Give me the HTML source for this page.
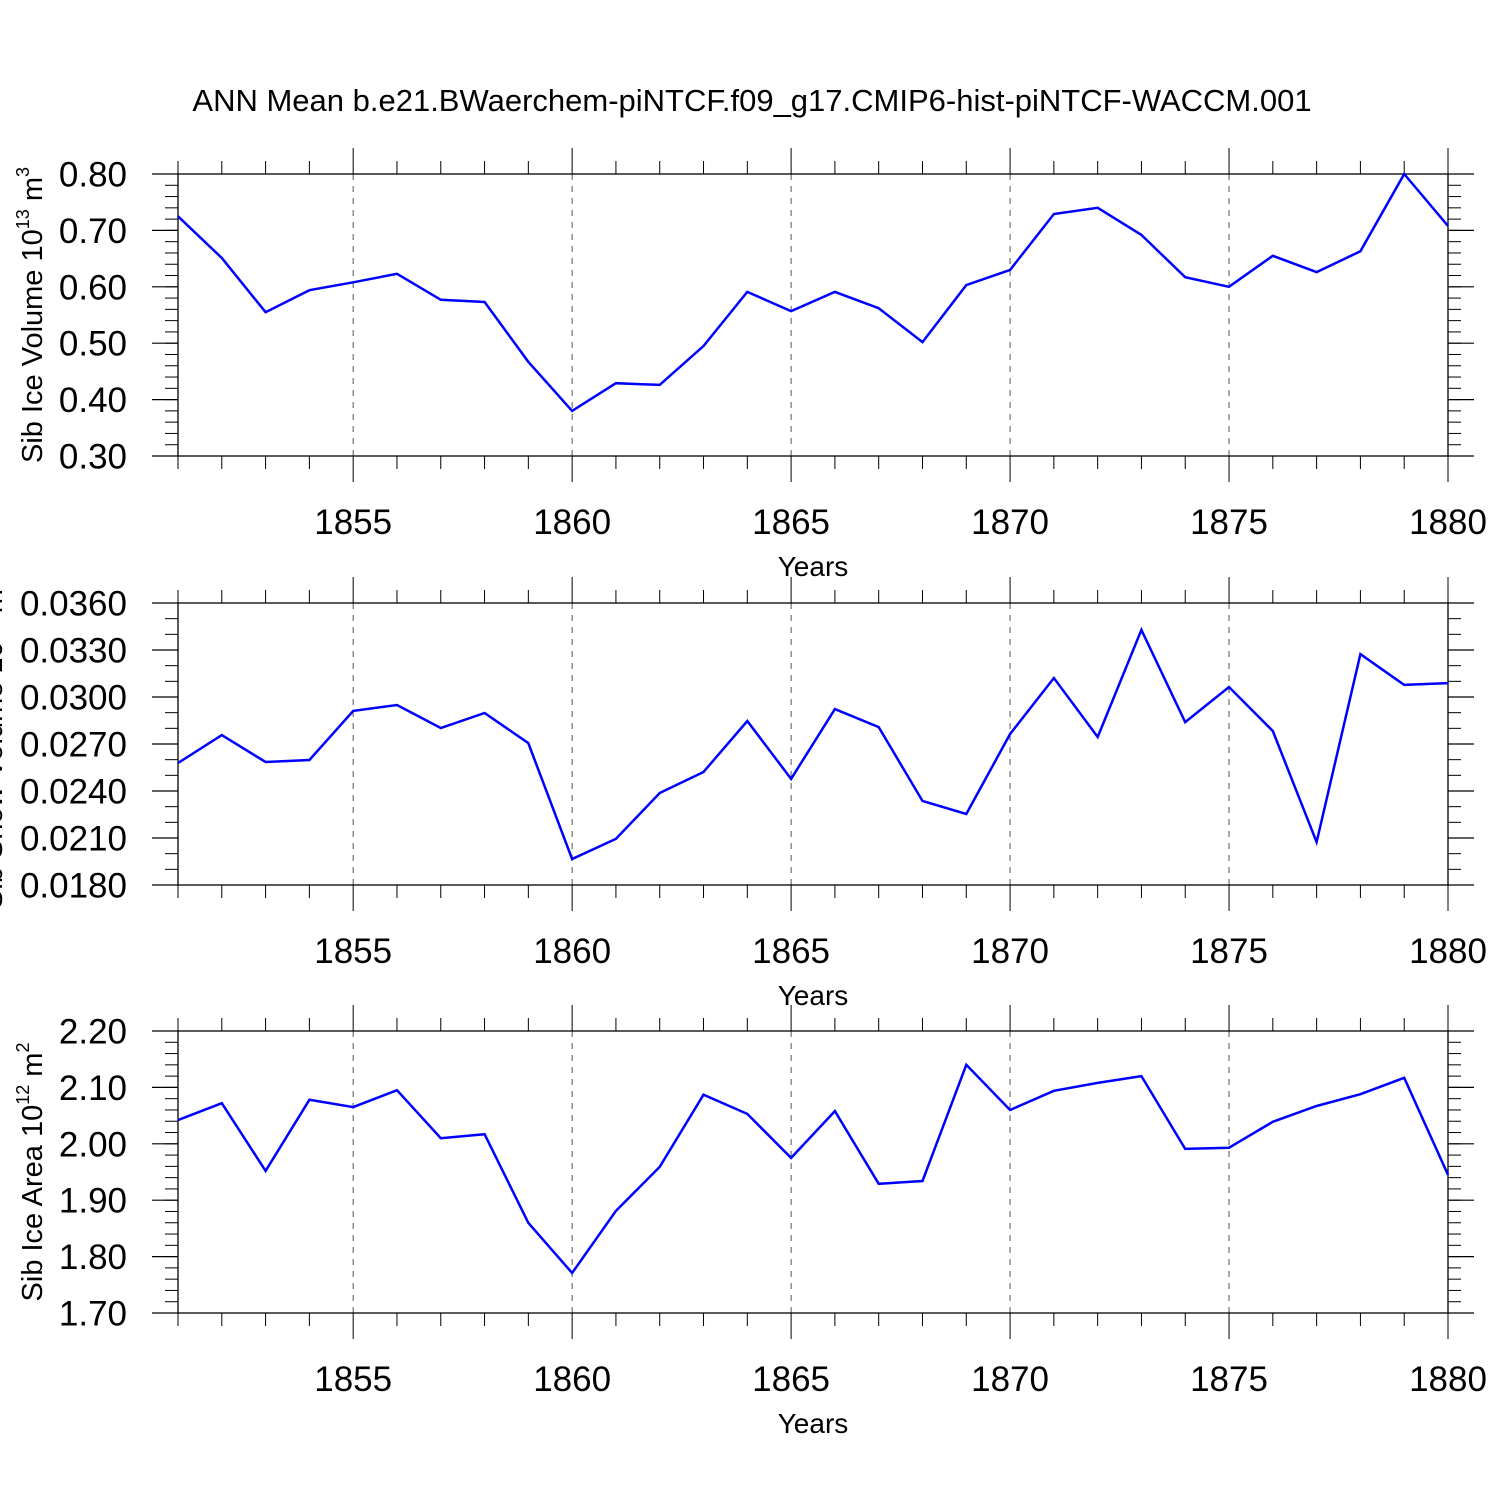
<!DOCTYPE html>
<html><head><meta charset="utf-8"><style>
html,body{margin:0;padding:0;background:#fff}
svg{display:block}
text{font-family:"Liberation Sans",sans-serif;fill:#000}
</style></head><body>
<svg id="chart" width="1500" height="1500" viewBox="0 0 1500 1500" xmlns="http://www.w3.org/2000/svg">
<text x="752" y="111" font-size="31" text-anchor="middle">ANN Mean b.e21.BWaerchem-piNTCF.f09_g17.CMIP6-hist-piNTCF-WACCM.001</text>
</svg>
<script>
const years = [1851,1852,1853,1854,1855,1856,1857,1858,1859,1860,1861,1862,1863,1864,1865,1866,1867,1868,1869,1870,1871,1872,1873,1874,1875,1876,1877,1878,1879,1880];
const iceVolume = [0.725,0.651,0.555,0.594,0.608,0.623,0.577,0.573,0.467,0.380,0.429,0.426,0.495,0.591,0.557,0.591,0.562,0.502,0.603,0.630,0.729,0.740,0.692,0.617,0.600,0.655,0.626,0.663,0.800,0.708];
const snowVolume = [0.02579,0.02757,0.02585,0.02598,0.02911,0.02949,0.02802,0.02898,0.02706,0.01966,0.02094,0.02387,0.02521,0.02847,0.02477,0.02923,0.02808,0.02336,0.02253,0.02764,0.03121,0.02745,0.03428,0.02840,0.03064,0.02783,0.02074,0.03274,0.03077,0.03089];
const iceArea = [2.042,2.072,1.952,2.078,2.065,2.095,2.010,2.017,1.860,1.771,1.881,1.959,2.087,2.053,1.975,2.058,1.929,1.934,2.140,2.060,2.094,2.108,2.120,1.991,1.993,2.039,2.067,2.088,2.117,1.945];
const xTicks = [1855,1860,1865,1870,1875,1880];
const volTicks = ["0.30","0.40","0.50","0.60","0.70","0.80"];
const snowTicks = ["0.0180","0.0210","0.0240","0.0270","0.0300","0.0330","0.0360"];
const areaTicks = ["1.70","1.80","1.90","2.00","2.10","2.20"];

const svg = document.getElementById('chart');
const NS = 'http://www.w3.org/2000/svg';
function mk(tag, attrs, parent){ const e=document.createElementNS(NS,tag); for(const k in attrs) e.setAttribute(k,attrs[k]); (parent||svg).appendChild(e); return e; }

const X0=178, X1=1448, XMIN=1851, XMAX=1880;
const xs = v => X0 + (v-XMIN)/(XMAX-XMIN)*(X1-X0);

const panels = [
 {id:'ice-volume', top:174, vals:iceVolume, ticks:volTicks, min:0.30, max:0.80, minor:0.02, title:'Sib Ice Volume 10', sup:'13', unit:' m', usup:'3', tx:32},
 {id:'snow-volume', top:603, vals:snowVolume, ticks:snowTicks, min:0.018, max:0.036, minor:0.001, title:'Sib Snow Volume 10', sup:'13', unit:' m', usup:'3', tx:-8},
 {id:'ice-area', top:1031, vals:iceArea, ticks:areaTicks, min:1.70, max:2.20, minor:0.02, title:'Sib Ice Area 10', sup:'12', unit:' m', usup:'2', tx:32}
];
const H=282;
panels.forEach(p=>{
  const g = mk('g',{});
  
  
  const bot = p.top+H;
  const ys = v => bot - (v-p.min)/(p.max-p.min)*H;
  xTicks.forEach(t=>{ if(t<XMAX){ const l=mk('line',{x1:xs(t),x2:xs(t),y1:p.top,y2:bot,stroke:'#555','stroke-width':1,'stroke-dasharray':'6,6'},g);
    
     }});
  const fr = mk('rect',{x:X0,y:p.top,width:X1-X0,height:H,fill:'none',stroke:'#000','stroke-width':1.3},g);
  
  
  years.forEach(yr=>{ const x=xs(yr); const major = xTicks.includes(yr); const len = major?26:13;
    mk('line',{x1:x,x2:x,y1:p.top,y2:p.top-len,stroke:'#000','stroke-width':1},g);
    mk('line',{x1:x,x2:x,y1:bot,y2:bot+len,stroke:'#000','stroke-width':1},g); });
  xTicks.forEach(t=>{ const tl=mk('text',{x:xs(t),y:534,'font-size':35,'text-anchor':'middle'},g);
    tl.setAttribute('transform','translate(0,'+(p.top-174)+')');
    
    
    tl.textContent=t; });
  const xt = mk('text',{x:813,y:576+(p.top-174),'font-size':28,'text-anchor':'middle'},g);
  
  
  xt.textContent='Years';
  const n = Math.round((p.max-p.min)/p.minor);
  for(let i=0;i<=n;i++){ const v=p.min+i*p.minor; const y=ys(v);
    mk('line',{x1:X0,x2:X0-13,y1:y,y2:y,stroke:'#000','stroke-width':1},g);
    mk('line',{x1:X1,x2:X1+13,y1:y,y2:y,stroke:'#000','stroke-width':1},g); }
  p.ticks.forEach(t=>{ const y=ys(parseFloat(t));
    mk('line',{x1:X0,x2:X0-26,y1:y,y2:y,stroke:'#000','stroke-width':1.2},g);
    mk('line',{x1:X1,x2:X1+26,y1:y,y2:y,stroke:'#000','stroke-width':1.2},g);
    const tl=mk('text',{x:127,y:y+12.5,'font-size':35,'text-anchor':'end'},g);
    
    
    tl.textContent=t; });
  const cy = p.top+H/2;
  const yt = mk('text',{x:p.tx,y:cy,'font-size':29,'text-anchor':'middle',transform:`rotate(-90 ${p.tx} ${cy}) translate(0 10)`},g);
  
  
  const t1=mk('tspan',{},yt); t1.textContent=p.title;
  const t2=mk('tspan',{dy:-13,'font-size':18},yt); t2.textContent=p.sup;
  const t3=mk('tspan',{dy:13},yt); t3.textContent=p.unit;
  const t4=mk('tspan',{dy:-13,'font-size':18},yt); t4.textContent=p.usup;
  const pts = years.map((yr,i)=>xs(yr).toFixed(1)+','+ys(p.vals[i]).toFixed(1)).join(' ');
  const ln = mk('polyline',{points:pts,fill:'none',stroke:'#0000ff','stroke-width':2.5,'stroke-linejoin':'miter'},g);
  
  
});
</script>
</body></html>
